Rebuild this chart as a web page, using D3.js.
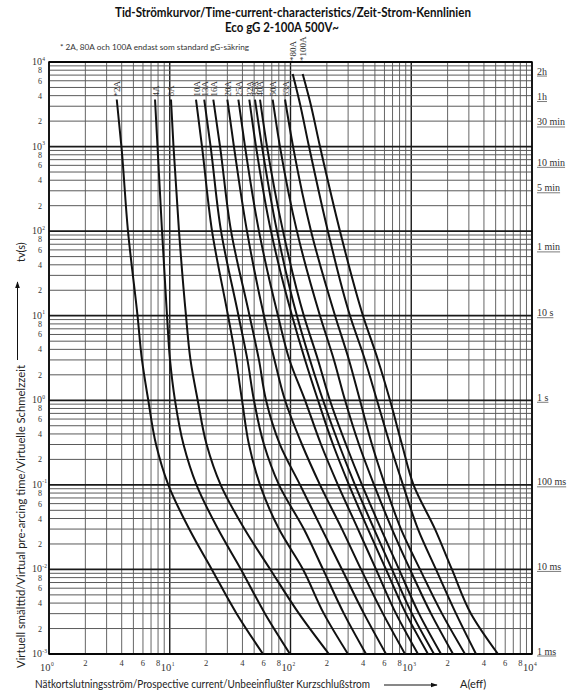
<!DOCTYPE html>
<html><head><meta charset="utf-8">
<script src="https://cdn.jsdelivr.net/npm/d3@7"></script>
<style>body{margin:0;background:#fff}</style>
</head><body><svg id="c" width="570" height="700"></svg>
<script>
// ---- data (time in s, current in A) ----
const times = [7200, 3600, 1000, 100, 10, 3, 1, 0.3, 0.1, 0.03, 0.01, 0.003, 0.001];
const ratings = ["*2A","4A","6A","10A","13A","16A","20A","25A","32A","35A","40A","50A","63A","*80A","*100A"];
const c2A   = [null, 3.64, 3.98, 4.51, 5.41, 5.89, 6.64, 7.70, 9.73, 14.5, 22.3, 35.8, 59.2];
const c4A   = [null, 7.55, 7.92, 8.63, 9.49, 10.05, 11.05, 13.0, 16.65, 25.1, 38.9, 61.5, 99.1];
const c6A   = [null, 10.24, 10.74, 11.93, 13.63, 14.85, 17.04, 20.2, 26.4, 41.6, 68.0, 117.6, 208];
const c10A  = [null, 16.5, 18.5, 22.4, 30.4, 35.4, 39.7, 45.3, 55.9, 80.3, 127, 189, 299];
const c13A  = [null, 19.3, 21.8, 26.6, 37.1, 44.0, 49.8, 60.3, 80.3, 129, 186, 277, 422];
const c16A  = [null, 22.95, 26.1, 32.2, 45.8, 54.8, 62.7, 81.8, 120, 182, 267, 406, 618];
const c20A  = [null, 30.0, 34.0, 43.6, 60.3, 73.7, 90.1, 124.5, 175.5, 267, 384, 583, 888];
const c25A  = [null, 37.0, 42.0, 54.8, 78.8, 98.1, 132, 179, 247, 362, 511, 748, 1137];
const c32A  = [null, 45.6, 51.8, 68.9, 103, 132, 169, 225, 305, 438, 618, 905, 1376];
const c35A  = [null, 50.8, 58.1, 77.3, 113, 145, 186, 252, 342, 492, 693, 1014, 1543];
const c40A  = [null, 55.9, 63.9, 86.7, 129, 169, 212, 288, 391, 562, 792, 1159, 1764];
const c50A  = [null, 71.2, 81.8, 113, 175.5, 229, 283, 369, 492, 693, 977, 1458, 2218];
const c63A  = [null, 90.1, 105, 148, 234, 305, 376, 473, 606, 822, 1182, 1797, 2786];
const c80A  = [104.3, 117.6, 142.3, 204, 311, 414, 520, 667, 854, 1137, 1603, 2348, 3437];
const c100A = [126.2, 143.7, 175.5, 257, 398.5, 530, 667, 838, 1044, 1573, 2173, 3122, 5229];
const currents = [c2A,c4A,c6A,c10A,c13A,c16A,c20A,c25A,c32A,c35A,c40A,c50A,c63A,c80A,c100A];

const rightLabels = ["2h","1h","30 min","10 min","5 min","1 min","10 s","1 s","100 ms","10 ms","1 ms"];
const rightTimes  = [7200,3600,1800,600,300,60,10,1,0.1,0.01,0.001];
const yExponents = [-3,-2,-1,0,1,2,3,4];
const xExponents = [0,1,2,3,4];
const minorTickLabels = [2,4,6,8];

const title1 = "Tid-Strömkurvor/Time-current-characteristics/Zeit-Strom-Kennlinien";
const title2 = "Eco gG 2-100A 500V~";
const note = "* 2A, 80A och 100A endast som standard gG-säkring";
const xTitle = "Nätkortslutningsström/Prospective current/Unbeeinflußter Kurzschlußstrom";
const xUnit = "A(eff)";
const yTitle = "Virtuell smälttid/Virtual pre-arcing time/Virtuelle Schmelzzeit";
const yUnit = "tv(s)";

// ---- drawing ----
const svg = d3.select("#c");
const L=49, R=532, T=62, B=654;
const x = d3.scaleLog().domain([1,1e4]).range([L,R]);
const y = d3.scaleLog().domain([1e-3,1e4]).range([B,T]);
const serif = "'Liberation Serif','DejaVu Serif',serif";
const sans = "Lato,'Open Sans',sans-serif";

svg.append("defs").append("marker").attr("id","ah").attr("viewBox","0 0 10 10")
  .attr("refX",9).attr("refY",5).attr("markerWidth",7).attr("markerHeight",7).attr("orient","auto")
  .append("path").attr("d","M0,1.5L10,5L0,8.5Z").attr("fill","#111");

// grid
const vx=[]; for(let e=0;e<4;e++) for(let k=1;k<10;k++) vx.push({v:k*Math.pow(10,e),major:k===1}); vx.push({v:1e4,major:true});
const hy=[]; for(let e=-3;e<4;e++) for(let k=1;k<10;k++) hy.push({v:k*Math.pow(10,e),major:k===1}); hy.push({v:1e4,major:true});
const grid = svg.append("g");
grid.selectAll("line.v").data(vx).join("line").attr("class","v")
  .attr("x1",d=>x(d.v)).attr("x2",d=>x(d.v)).attr("y1",T).attr("y2",B)
  .attr("stroke",d=>d.major?"#1a1a1a":"#666").attr("stroke-width",d=>d.major?1.4:1);
grid.selectAll("line.h").data(hy).join("line").attr("class","h")
  .attr("y1",d=>y(d.v)).attr("y2",d=>y(d.v)).attr("x1",L).attr("x2",R)
  .attr("stroke",d=>d.major?"#1a1a1a":"#5a5a5a").attr("stroke-width",d=>d.major?1.8:1);
svg.append("rect").attr("x",L).attr("y",T).attr("width",R-L).attr("height",B-T)
  .attr("fill","none").attr("stroke","#000").attr("stroke-width",1.5);

// curves
const line = d3.line().x(d=>x(d[0])).y(d=>y(d[1])).curve(d3.curveMonotoneY);
const series = ratings.map((r,i)=>({name:r, pts: times.map((t,j)=>[currents[i][j],t]).filter(d=>d[0]!=null)}));
svg.append("g").selectAll("path").data(series).join("path")
  .attr("d",d=>line(d.pts)).attr("fill","none").attr("stroke","#111").attr("stroke-width",2);

// curve labels
svg.append("g").selectAll("text").data(series).join("text")
  .attr("transform",d=>{const px=x(d.pts[0][0]), py=y(d.pts[0][1]); const ly = py<T+20 ? T-1 : py-3; return `translate(${px+0.5},${ly}) rotate(-90)`;})
  .attr("dominant-baseline","central").attr("font-family",serif).attr("font-size",9).attr("fill","#333")
  .text(d=>d.name);

// left axis labels
const lab = svg.append("g").attr("fill","#333").attr("font-family",serif);
yExponents.forEach(e=>{
  lab.append("text").attr("x",42).attr("y",y(Math.pow(10,e))+3).attr("text-anchor","end").attr("font-size",10).text("10");
  lab.append("text").attr("x",42.3).attr("y",y(Math.pow(10,e))-1.5).attr("font-size",5.5).text(e);
});
yExponents.filter(e=>e<4).forEach(e=>minorTickLabels.forEach(k=>{
  lab.append("text").attr("x",42).attr("y",y(k*Math.pow(10,e))+3).attr("text-anchor","end").attr("font-size",8).text(k);
}));
// bottom axis labels
xExponents.forEach(e=>{
  lab.append("text").attr("x",x(Math.pow(10,e))+1.5).attr("y",671).attr("text-anchor","end").attr("font-size",10.5).text("10");
  lab.append("text").attr("x",x(Math.pow(10,e))+2).attr("y",666).attr("font-size",5.5).text(e);
});
xExponents.filter(e=>e<4).forEach(e=>minorTickLabels.forEach(k=>{
  lab.append("text").attr("x",x(k*Math.pow(10,e))).attr("y",666).attr("text-anchor","middle").attr("font-size",8.5).text(k);
}));

// right labels (underlined)
const rl = svg.append("g").attr("font-family",serif).attr("fill","#333");
rightLabels.forEach((s,i)=>{
  const yy = y(rightTimes[i]);
  const t = rl.append("text").attr("x",537).attr("y",yy+0.5).attr("font-size",10).text(s);
  const w = t.node().getComputedTextLength();
  rl.append("line").attr("x1",537).attr("x2",537+w).attr("y1",yy+2).attr("y2",yy+2).attr("stroke","#444").attr("stroke-width",0.7);
});

// titles
svg.append("text").attr("x",293).attr("y",17).attr("text-anchor","middle").attr("font-family",sans)
  .attr("font-weight",700).attr("font-size",13).attr("textLength",356).attr("lengthAdjust","spacingAndGlyphs").attr("fill","#111").text(title1);
svg.append("text").attr("x",282).attr("y",32).attr("text-anchor","middle").attr("font-family",sans)
  .attr("font-weight",700).attr("font-size",13).attr("textLength",114).attr("lengthAdjust","spacingAndGlyphs").attr("fill","#111").text(title2);
svg.append("text").attr("x",60).attr("y",50).attr("font-family",sans).attr("font-size",7.5)
  .attr("textLength",189).attr("lengthAdjust","spacingAndGlyphs").attr("fill","#333").text(note);

// x title
svg.append("text").attr("x",35).attr("y",688).attr("font-family",sans).attr("font-size",11)
  .attr("textLength",335).attr("lengthAdjust","spacingAndGlyphs").attr("fill","#222").text(xTitle);
svg.append("line").attr("x1",384).attr("x2",437).attr("y1",685).attr("y2",685).attr("stroke","#111").attr("stroke-width",1).attr("marker-end","url(#ah)");
svg.append("text").attr("x",460).attr("y",688).attr("font-family",sans).attr("font-size",11).attr("fill","#222").text(xUnit);

// y title
svg.append("text").attr("transform","translate(24.5,668) rotate(-90)").attr("font-family",sans).attr("font-size",11)
  .attr("textLength",303).attr("lengthAdjust","spacingAndGlyphs").attr("fill","#222").text(yTitle);
svg.append("line").attr("x1",17.5).attr("x2",17.5).attr("y1",360).attr("y2",282).attr("stroke","#111").attr("stroke-width",1).attr("marker-end","url(#ah)");
svg.append("text").attr("transform","translate(24.5,262) rotate(-90)").attr("font-family",sans).attr("font-size",11).attr("fill","#222").text(yUnit);
</script></body></html>
